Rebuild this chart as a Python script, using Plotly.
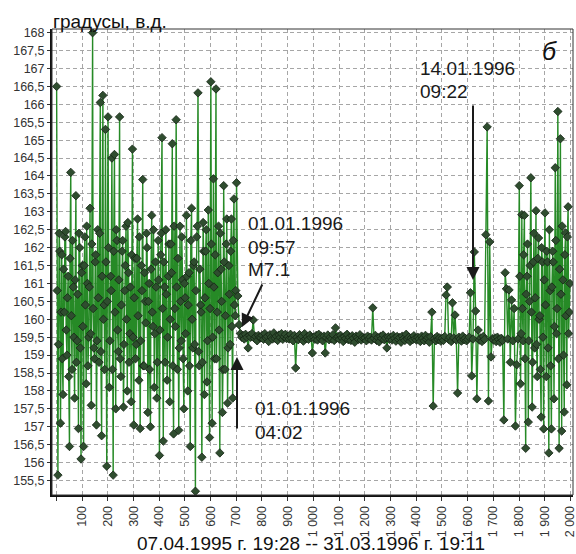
import plotly.graph_objects as go

# ---------------- data ----------------
step = 5  # sample index spacing used for the plotted readings

# index 1 .. 696 : strongly fluctuating part (readings at 1, 6, 11, ...)
early = [
    166.5, 155.65, 162.4, 157.1, 161.8, 157.9, 160.2, 162.45, 159.0, 161.2,
    156.45, 164.1, 158.6, 160.9, 157.8, 163.45, 159.4, 156.95, 162.0, 156.1,
    161.5, 156.45, 162.3, 158.2, 161.0, 159.5, 163.1, 157.6, 168.0, 159.2,
    161.6, 157.05, 162.5, 158.8, 166.05, 156.75, 166.25, 160.4, 165.3, 155.9,
    165.65, 158.1, 161.2, 164.5, 155.65, 164.6, 157.5, 162.2, 159.1, 165.65,
    158.4, 161.9, 157.55, 160.8, 162.6, 158.0, 161.3, 159.6, 157.7, 164.75,
    157.05, 161.7, 159.3, 162.8, 158.3, 156.95, 161.5, 163.9, 158.7, 160.5,
    162.4, 157.4, 161.0, 157.0, 162.9, 159.8, 158.1, 161.6, 157.8, 162.2,
    156.2, 161.8, 165.07, 156.6, 160.9, 162.5, 158.3, 161.2, 157.7, 162.1,
    164.9, 156.8, 160.3, 165.57, 158.6, 156.9, 162.6, 159.4, 161.1, 157.5,
    160.6, 162.9, 158.0, 161.3, 156.45, 163.1, 159.2, 161.6, 155.2, 162.3,
    166.32, 158.7, 160.4, 156.15, 162.7, 157.9, 161.9, 158.25, 163.05, 156.7,
    166.63, 157.1, 163.92, 158.9, 166.43, 160.2, 162.6, 156.27, 161.4, 157.4,
    163.73, 158.6, 162.1, 157.66, 161.5, 159.3, 162.8, 157.8, 163.36, 160.1,
]

# readings in between (at 3, 8, 13, ...) of the fluctuating part
early_mid = [
    160.8, 159.3, 161.9, 160.2, 158.9, 161.4, 162.3, 159.7, 160.6, 158.4,
    161.7, 160.1, 162.2, 159.5, 161.1, 158.8, 160.7, 162.4, 159.2, 161.3,
    159.8, 161.5, 160.4, 162.6, 158.7, 160.9, 159.6, 162.1, 160.3, 158.9,
    161.8, 159.4, 160.6, 162.4, 159.1, 161.2, 160.0, 158.6, 161.6, 160.5,
    162.0, 159.4, 160.8, 158.6, 161.9, 160.2, 162.5, 159.7, 161.1, 158.9,
    160.4, 162.2, 159.3, 161.5, 160.0, 162.7, 158.8, 160.9, 161.8, 159.5,
    160.6, 158.9, 161.7, 160.1, 162.3, 159.4, 160.8, 158.7, 161.3, 159.9,
    162.0, 160.5, 158.6, 161.4, 160.2, 162.5, 159.6, 160.9, 158.8, 161.1,
    159.7, 162.4, 160.3, 161.6, 158.8, 160.7, 159.5, 162.1, 160.0, 161.3,
    158.7, 162.6, 159.8, 160.9, 161.7, 159.2, 160.5, 162.3, 158.9, 161.0,
    159.6, 161.2, 160.4, 158.7, 162.2, 160.0, 161.5, 159.3, 160.8, 162.6,
    159.1, 161.4, 160.2, 158.8, 161.9, 160.6, 162.5, 159.4, 161.0, 160.3,
    162.1, 159.5, 160.9, 161.8, 158.9, 161.3, 159.7, 162.4, 160.5, 158.6,
    161.6, 160.1, 162.8, 159.2, 160.7, 161.9, 159.8, 162.2, 160.4, 160.8,
]

# index 701 .. 1796 : quiet part after 01.01.1996
quiet = [
    163.81, 160.65, 159.85, 159.6, 159.5, 159.55, 159.45, 159.58, 159.5, 159.2,
    159.55, 159.5, 159.6, 159.98, 159.47, 159.52, 159.4, 159.55, 159.5, 159.48,
    159.55, 159.44, 159.6, 159.48, 159.52, 159.38, 159.57, 159.5, 159.45, 159.62,
    159.47, 159.53, 159.41, 159.56, 159.49, 159.6, 159.44, 159.51, 159.58, 159.46,
    159.52, 159.45, 159.58, 159.47, 159.4, 159.55, 158.64, 159.5, 159.43, 159.57,
    159.48, 159.53, 159.39, 159.6, 159.46, 159.51, 159.44, 159.56, 159.49, 159.06,
    159.5, 159.44, 159.55, 159.42, 159.58, 159.47, 159.52, 159.4, 159.53, 159.06,
    159.49, 159.56, 159.43, 159.5, 159.45, 159.57, 159.41, 159.76, 159.48, 159.52,
    159.44, 159.55, 159.48, 159.38, 159.52, 159.46, 159.58, 159.43, 159.5, 159.41,
    159.54, 159.47, 159.36, 159.53, 159.49, 159.44, 159.57, 159.42, 159.5, 159.46,
    159.48, 159.4, 159.53, 159.45, 159.5, 159.42, 160.32, 159.47, 159.55, 159.41,
    159.49, 159.37, 159.52, 159.46, 159.56, 159.43, 159.48, 159.2, 159.51, 159.44,
    159.5, 159.42, 159.55, 159.47, 159.39, 159.52, 159.44, 159.49, 159.36, 159.53,
    159.46, 159.41, 159.58, 159.45, 159.5, 159.38, 159.48, 159.43, 159.54, 159.46,
    159.42, 159.5, 159.45, 159.38, 159.53, 159.47, 159.4, 159.55, 159.44, 159.49,
    159.36, 159.51, 160.2, 157.58, 159.46, 159.4, 159.52, 159.43, 159.48, 159.39,
    159.47, 159.41, 159.52, 160.68, 160.9, 159.44, 159.5, 159.38, 160.46, 159.48,
    160.12, 159.42, 157.94, 159.5, 159.45, 159.39, 159.53, 159.43, 159.47, 159.4,
    159.44, 159.5, 160.74, 158.42, 159.45, 161.88, 160.23, 157.78, 159.7, 159.42,
    159.48, 159.38, 159.52, 159.44, 162.36, 165.37, 157.72, 162.16, 158.95, 159.46,
    159.42, 159.48, 159.38, 159.5, 159.44, 159.36, 159.47, 159.41, 157.19, 161.3,
    160.85, 159.45, 160.82, 158.8, 160.54, 159.4, 160.3, 157.02, 158.73, 159.45,
]

# index 1801 .. 1996 : fluctuating again
late = [
    163.73, 158.2, 162.92, 159.4, 162.9, 156.4, 161.2, 157.13, 160.5, 163.95,
    157.55, 161.6, 159.2, 163.03, 158.4, 162.27, 160.1, 157.27, 161.6, 156.94,
    162.97, 158.4, 161.6, 156.27, 160.8, 156.94, 161.9, 157.78, 164.23, 159.6,
    165.8, 156.4, 165.04, 156.88, 161.1, 157.41, 162.41, 158.17, 163.14, 160.2,
]

# readings in between (at 1803, 1808, ...) of the last part
late_mid = [
    161.2, 159.6, 160.3, 161.8, 158.9, 160.7, 162.1, 159.4, 161.5, 160.2,
    158.8, 162.4, 160.6, 159.3, 161.7, 160.0, 158.6, 162.0, 159.5, 161.1,
    160.4, 161.9, 159.2, 162.5, 158.7, 160.9, 161.6, 159.8, 162.2, 160.3,
    158.9, 161.4, 160.7, 162.6, 159.0, 161.8, 160.1, 162.3, 159.6, 161.0,
]

main_values = early + quiet + late
points = [(1 + step * i, v) for i, v in enumerate(main_values)]
points += [(3 + step * i, v) for i, v in enumerate(early_mid)]
points += [(1803 + step * i, v) for i, v in enumerate(late_mid)]
points.sort()
index = [p[0] for p in points]
values = [p[1] for p in points]

y_tickvals = [155.5, 156, 156.5, 157, 157.5, 158, 158.5, 159, 159.5, 160, 160.5,
              161, 161.5, 162, 162.5, 163, 163.5, 164, 164.5, 165, 165.5, 166,
              166.5, 167, 167.5, 168]
y_ticktext = ["155,5", "156", "156,5", "157", "157,5", "158", "158,5", "159",
              "159,5", "160", "160,5", "161", "161,5", "162", "162,5", "163",
              "163,5", "164", "164,5", "165", "165,5", "166", "166,5", "167",
              "167,5", "168"]
x_tickvals = [0, 100, 200, 300, 400, 500, 600, 700, 800, 900, 1000, 1100, 1200,
              1300, 1400, 1500, 1600, 1700, 1800, 1900, 2000]
x_ticktext = ["", "100", "200", "300", "400", "500", "600", "700", "800", "900",
              "1 000", "1 100", "1 200", "1 300", "1 400", "1 500", "1 600",
              "1 700", "1 800", "1 900", "2 000"]

y_title = "градусы, в.д."
x_title = "07.04.1995 г. 19:28 -- 31.03.1996 г. 19:11"
panel_label = "б"
notes = [
    ("01.01.1996", 246, 223), ("09:57", 246, 247), ("M7.1", 246, 269),
    ("01.01.1996", 253, 408), ("04:02", 253, 432),
    ("14.01.1996", 418, 68), ("09:22", 418, 92),
]

# ---------------- figure ----------------
W, H = 576, 554
L, R, T, B = 52, 3, 29, 59
PW, PH = W - L - R, H - T - B


def px(xp):
    return (xp - L) / PW


def py(yp):
    return (H - B - yp) / PH


narrow = "Liberation Sans Narrow, Arial Narrow, Liberation Sans, Arial, sans-serif"
sans = "Liberation Sans, Arial, sans-serif"

fig = go.Figure()
fig.add_trace(go.Scatter(
    x=index, y=values, mode="lines+markers",
    line=dict(color="#268a26", width=1.4),
    marker=dict(symbol="diamond", size=6.5, color="#2f4d2f",
                line=dict(color="#142414", width=0.8)),
    hoverinfo="x+y",
))

grid = dict(showgrid=True, gridcolor="#a6a6a6", gridwidth=1, griddash="4px,3px",
            zeroline=False, showline=True, linecolor="#111", linewidth=2,
            ticks="outside", tickcolor="#333", tickwidth=1, automargin=False,
            ticklabeloverflow="allow")

fig.update_xaxes(range=[-17, 2010], tickmode="array", tickvals=x_tickvals,
                 ticktext=x_ticktext, tickangle=-90, ticklen=4,
                 tickfont=dict(family=narrow, size=12.5, color="#333"), **grid)
fig.update_yaxes(range=[155.095, 168.103], tickmode="array", tickvals=y_tickvals,
                 ticktext=y_ticktext, ticklen=3,
                 tickfont=dict(family=narrow, size=12.5, color="#333"), **grid)

anns = []
for txt, x0, y0 in notes:
    anns.append(dict(text=txt, x=px(x0), y=py(y0), xref="paper", yref="paper",
                     xanchor="left", yanchor="middle", showarrow=False,
                     font=dict(family=sans, size=19, color="#1a1a1a")))
anns.append(dict(text=y_title, x=px(51), y=py(21), xref="paper", yref="paper",
                 xanchor="left", yanchor="middle", showarrow=False,
                 font=dict(family=sans, size=19, color="#111")))
anns.append(dict(text=x_title, x=px(311), y=py(543), xref="paper", yref="paper",
                 xanchor="center", yanchor="middle", showarrow=False,
                 font=dict(family=sans, size=19, color="#111")))
anns.append(dict(text="<i>" + panel_label + "</i>", x=px(549), y=py(51),
                 xref="paper", yref="paper", xanchor="center", yanchor="middle",
                 showarrow=False, font=dict(family=sans, size=25, color="#111")))

# arrows: (tip_x, tip_y, tail_x, tail_y) in pixels
arrows = [(473, 280, 473, 104), (242, 327, 263, 283), (237, 357, 237, 430)]
for tx, ty, sx, sy in arrows:
    anns.append(dict(text="", x=px(tx), y=py(ty), xref="paper", yref="paper",
                     ax=sx - tx, ay=sy - ty, showarrow=True, arrowhead=2,
                     arrowsize=1.3, arrowwidth=2, arrowcolor="#1a1a1a",
                     standoff=0, startstandoff=0))

fig.update_layout(
    width=W, height=H, margin=dict(l=L, r=R, t=T, b=B),
    plot_bgcolor="white", paper_bgcolor="white", showlegend=False,
    annotations=anns,
    shapes=[dict(type="rect", xref="paper", yref="paper", x0=0, x1=1, y0=0, y1=1,
                 line=dict(color="#333", width=1), layer="above")],
)

fig.write_html("out.html", config={"displayModeBar": False},
               post_script="document.body.style.margin='0';"
                           "document.body.style.padding='0';")
